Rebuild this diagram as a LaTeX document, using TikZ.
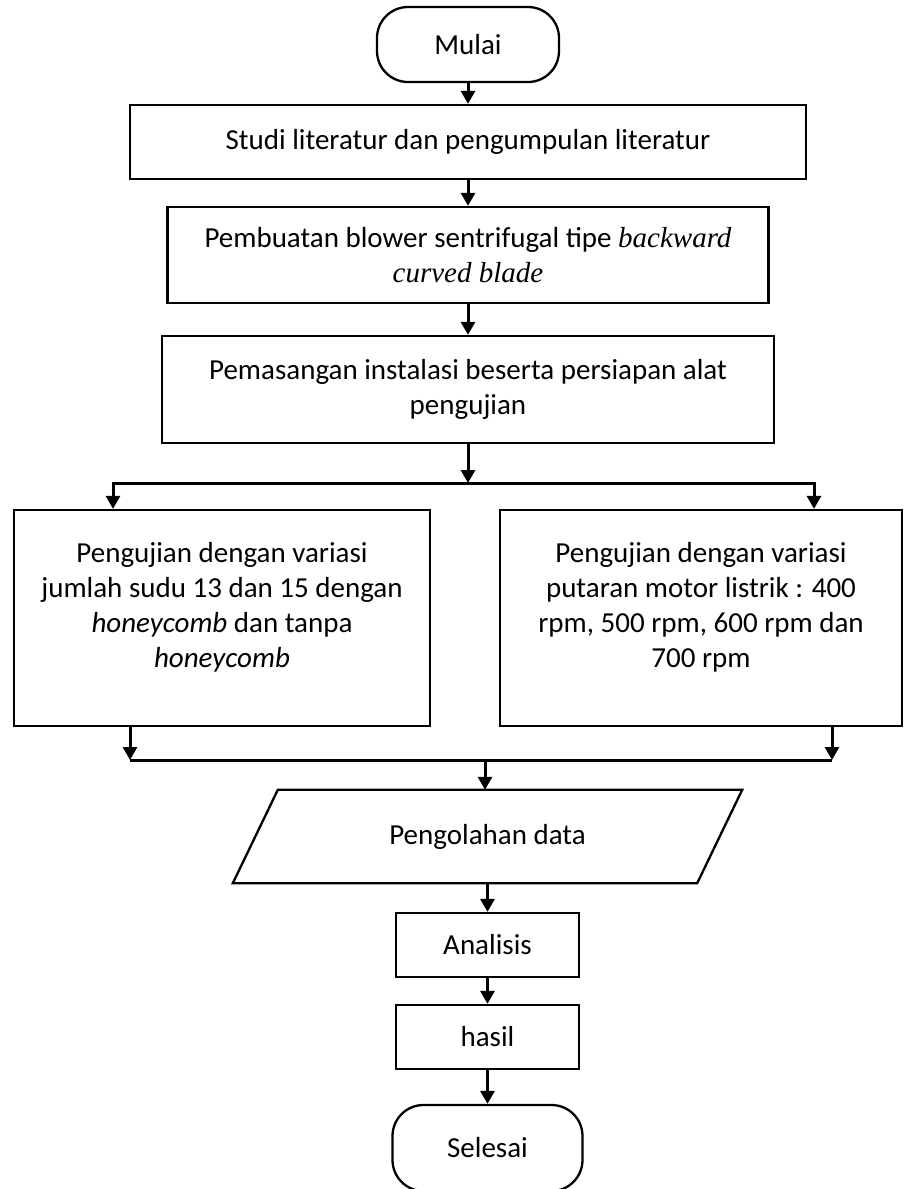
\documentclass[tikz,border=0pt]{standalone}
\usepackage{fontspec}
\setmainfont{Carlito}
\newfontfamily\timesit{Liberation Serif}
\usetikzlibrary{positioning,arrows.meta,calc}

\newcommand{\flowfont}{\fontsize{29}{35}\selectfont}

\tikzset{
  proc/.style={draw, line width=2.3pt, align=center, inner sep=0pt, font=\flowfont},
  term/.style={proc, rounded corners=31pt},
  flow/.style={line width=3pt, -{Triangle[length=13pt,width=14pt]}},
}

\begin{document}
\begin{tikzpicture}[x=1pt, y=1pt, node distance=100pt, on grid]
    \useasboundingbox (0,0) rectangle (904,-1189);

    \node[term, minimum width=182pt, minimum height=75pt] (mulai) at (468,-44.5) {Mulai};
    \node[proc, minimum width=676pt, minimum height=74pt] (studi) [below=97.5pt of mulai] {Studi literatur dan pengumpulan literatur};
    \node[proc, minimum width=601pt, minimum height=96pt] (buat) [below=113pt of studi]
        {Pembuatan blower sentrifugal tipe {\timesit\itshape backward}\\{\timesit\itshape curved blade}};
    \node[proc, minimum width=612pt, minimum height=107pt] (pasang) [below=134.5pt of buat]
        {Pemasangan instalasi beserta persiapan alat\\pengujian};
    \node[proc, minimum width=416pt, minimum height=216pt] (ujisudu) [below left=228.5pt and 246pt of pasang]
        {Pengujian dengan variasi\\jumlah sudu 13 dan 15 dengan\\\textit{honeycomb} dan tanpa\\\textit{honeycomb}\\[-8pt]};
    \node[proc, minimum width=402pt, minimum height=216pt] (ujirpm) [below right=228.5pt and 233pt of pasang]
        {Pengujian dengan variasi\\putaran motor listrik : 400\\rpm, 500 rpm, 600 rpm dan\\700 rpm\\[-8pt]};

    % data (parallelogram)
    \node[minimum width=464pt, minimum height=93pt, inner sep=0pt, font=\flowfont] (olah) at (487.5,-836.5) {Pengolahan data};
    \draw[line width=2.3pt] ([xshift=22.5pt]olah.north west) -- ([xshift=22.5pt]olah.north east)
        -- ([xshift=-22.5pt]olah.south east) -- ([xshift=-22.5pt]olah.south west) -- cycle;

    \node[proc, minimum width=183pt, minimum height=64pt] (analisis) [below=108.5pt of olah] {Analisis};
    \node[proc, minimum width=183pt, minimum height=64pt] (hasil) [below=92pt of analisis] {hasil};
    \node[term, minimum width=190pt, minimum height=86pt] (selesai) [below=111pt of hasil] {Selesai};

    \coordinate (bagi) at (468,-483);
    \coordinate (bagiL) at (113,-483);
    \coordinate (bagiR) at (814,-483);
    \coordinate (gabungL) at (130,-760);
    \coordinate (gabungR) at (832,-760);
    \coordinate (gabung) at (485,-760);

    \draw[flow] (mulai) -- (studi);
    \draw[flow] (studi) -- (buat);
    \draw[flow] (buat) -- (pasang);
    \draw[flow] (pasang) -- (bagi);
    \draw[flow] (bagi) -| (bagiL |- ujisudu.north);
    \draw[flow] (bagi) -| (bagiR |- ujirpm.north);
    \draw[flow] (ujisudu.south -| gabungL) -- (gabungL);
    \draw[flow] (ujirpm.south -| gabungR) -- (gabungR);
    \draw[line width=3pt] (gabungL) -- (gabungR);
    \draw[flow] (gabung) -- (gabung |- olah.north);
    \draw[flow] (olah) -- (analisis);
    \draw[flow] (analisis) -- (hasil);
    \draw[flow] (hasil) -- (selesai);

\end{tikzpicture}
\end{document}
